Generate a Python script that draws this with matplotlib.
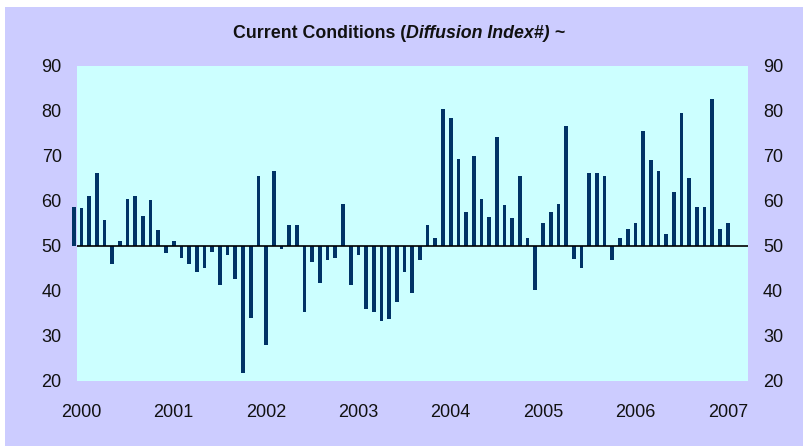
import numpy as np
import matplotlib
matplotlib.use("Agg")
import matplotlib.pyplot as plt
from matplotlib import font_manager
from matplotlib.patches import Rectangle

# monthly diffusion index, Jan 2000 .. Feb 2007
values = [
    58.7, 58.3, 61.0, 66.1, 55.6, 45.9, 51.0, 60.3, 61.0, 56.7, 60.1, 53.4,   # 2000
    48.4, 51.0, 47.3, 45.9, 44.1, 45.0, 48.6, 41.3, 47.9, 42.6, 21.7, 33.9,   # 2001
    65.4, 27.9, 66.5, 49.3, 54.7, 54.5, 35.3, 46.4, 41.7, 46.8, 47.3, 59.2,   # 2002
    41.3, 47.9, 35.9, 35.3, 33.3, 33.7, 37.5, 44.1, 39.5, 46.8, 54.7, 51.6,   # 2003
    80.3, 78.3, 69.2, 57.4, 69.9, 60.3, 56.3, 74.1, 59.0, 56.1, 65.6, 51.6,   # 2004
    40.1, 55.0, 57.6, 59.2, 76.5, 47.0, 45.0, 66.1, 66.1, 65.4, 46.8, 51.6,   # 2005
    53.6, 55.0, 75.4, 69.0, 66.5, 52.7, 61.9, 79.4, 65.0, 58.5, 58.5, 82.5,   # 2006
    53.6, 55.0,                                                               # 2007
]
years = ["2000", "2001", "2002", "2003", "2004", "2005", "2006", "2007"]
y_ticks = [20, 30, 40, 50, 60, 70, 80, 90]

# pick a narrow sans if there is one
fam = "Liberation Sans"
for f in ["Liberation Sans Narrow", "Arial Narrow", "Liberation Sans"]:
    try:
        font_manager.findfont(font_manager.FontProperties(family=f), fallback_to_default=False)
        fam = f
        break
    except Exception:
        pass
narrow = fam != "Liberation Sans"
plt.rcParams["font.family"] = [fam, "DejaVu Sans"]
lab_size = 15 if narrow else 13
title_size = 14 if narrow else 12.8

fig = plt.figure(figsize=(8.04, 4.46), dpi=100)
fig.patch.set_facecolor("white")
# lavender chart background, white margin at top/left
fig.patches.append(Rectangle((5 / 804, 0), 1, (446 - 7) / 446, transform=fig.transFigure,
                             facecolor="#CCCCFF", edgecolor="none", zorder=-10))

ax = fig.add_axes([77 / 804, (446 - 380.7) / 446, 670.7 / 804, 315 / 446])
ax.set_facecolor("#CCFFFF")

x = np.arange(len(values))
v = np.array(values)
ax.bar(x, v - 50, bottom=50, width=0.48, color="#003366", clip_on=False, zorder=3)
ax.axhline(50, color="black", lw=1.2, zorder=4)

ax.set_xlim(0.43, 87.6)
ax.set_ylim(20, 90)
ax.set_yticks(y_ticks)
ax.set_xticks(np.arange(len(years)) * 12 + 1)
ax.set_xticklabels(years)
ax.tick_params(axis="x", length=0, pad=17, labelsize=lab_size, colors="#111111")
ax.tick_params(axis="y", length=0, pad=11, labelsize=lab_size, colors="#111111")
for s in ax.spines.values():
    s.set_visible(False)

ax2 = ax.twinx()
ax2.set_ylim(20, 90)
ax2.set_yticks(y_ticks)
ax2.tick_params(axis="y", length=0, pad=11, labelsize=lab_size, colors="#111111")
for s in ax2.spines.values():
    s.set_visible(False)

# title in three pieces: bold, bold italic, bold
parts = [("Current Conditions (", "normal"), ("Diffusion Index#)", "italic"), (" ~", "normal")]
r = fig.canvas.get_renderer()
texts = []
for s, st in parts:
    t = fig.text(0, 1 - 33 / 446, s, ha="left", va="center", fontsize=title_size,
                 fontweight="bold", style=st, color="#111111")
    texts.append(t)
widths = [t.get_window_extent(r).width for t in texts]
xpos = 399 - sum(widths) / 2
for t, w in zip(texts, widths):
    t.set_x(xpos / 804)
    xpos += w

fig.savefig("out.png", dpi=100)
